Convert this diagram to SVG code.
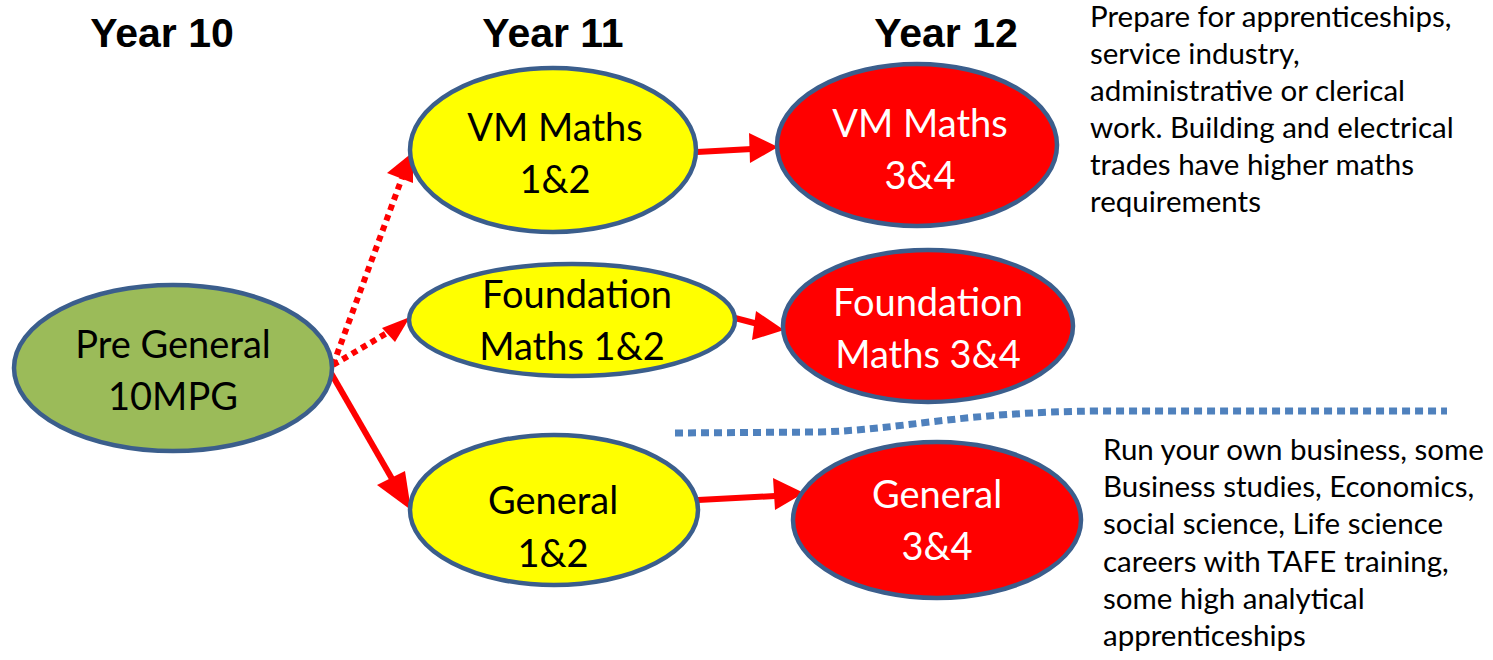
<svg xmlns="http://www.w3.org/2000/svg" width="1493" height="660" viewBox="0 0 1493 660">
<style>
.node { stroke: #3B5E8C; stroke-width: 4.5; }
.green { fill: #9BBB59; }
.yellow { fill: #FFFF00; }
.red { fill: #FF0000; }
.lbl { font-family: Lato, "Open Sans", sans-serif; font-size: 38px; text-anchor: middle; }
.dark { fill: #000000; }
.light { fill: #FFFFFF; }
.year { font-family: "Liberation Sans", Arial, sans-serif; font-size: 41px; font-weight: bold; text-anchor: middle; fill: #000; }
.note { font-family: Lato, "Open Sans", sans-serif; font-size: 29.5px; fill: #000; }
.conn { stroke: #FF0000; fill: none; }
.solid { stroke-width: 6; }
.dotted { stroke-width: 6; stroke-dasharray: 6 5; }
.head { fill: #FF0000; }
</style>
<rect width="1493" height="660" fill="#FFFFFF"/>

<g id="year-labels">
<text class="year" x="162" y="47">Year 10</text>
<text class="year" x="553" y="47">Year 11</text>
<text class="year" x="946" y="47">Year 12</text>
</g>

<g id="connectors">
<line class="conn dotted" x1="333" y1="365" x2="402" y2="178"/>
<polygon class="head" points="413,152 387,173 413,183"/>
<line class="conn dotted" x1="333" y1="365" x2="392" y2="330"/>
<polygon class="head" points="410,317 382,328 395,342"/>
<line class="conn solid" x1="331" y1="373" x2="395" y2="484"/>
<polygon class="head" points="411,510 377,485 405,471"/>
<line class="conn solid" x1="697" y1="152" x2="752" y2="149"/>
<polygon class="head" points="778,147 749,133 750,163"/>
<line class="conn solid" x1="735" y1="318" x2="758" y2="324"/>
<polygon class="head" points="784,330 756,311 752,340"/>
<line class="conn solid" x1="698" y1="500" x2="775" y2="496"/>
<polygon class="head" points="804,493 773,478 775,510"/>
<path fill="none" stroke="#4F81BD" stroke-width="7" stroke-dasharray="8 5" d="M675,433 L820,432 C900,430 960,412 1100,411 L1447,411"/>
</g>

<g id="pre-general">
<ellipse class="node green" cx="173" cy="368" rx="159" ry="83"/>
<text class="lbl dark" x="173" y="358">Pre General</text>
<text class="lbl dark" x="173" y="410">10MPG</text>
</g>

<g id="vm-maths-12">
<ellipse class="node yellow" cx="553" cy="150" rx="143" ry="82"/>
<text class="lbl dark" x="555" y="141">VM Maths</text>
<text class="lbl dark" x="555" y="193">1&amp;2</text>
</g>

<g id="foundation-maths-12">
<ellipse class="node yellow" cx="572" cy="320" rx="163" ry="56"/>
<text class="lbl dark" x="577" y="308">Foundation</text>
<text class="lbl dark" x="572" y="360">Maths 1&amp;2</text>
</g>

<g id="general-12">
<ellipse class="node yellow" cx="554" cy="510" rx="144" ry="75"/>
<text class="lbl dark" x="553" y="514">General</text>
<text class="lbl dark" x="553" y="567">1&amp;2</text>
</g>

<g id="vm-maths-34">
<ellipse class="node red" cx="917" cy="145" rx="140" ry="81"/>
<text class="lbl light" x="920" y="137">VM Maths</text>
<text class="lbl light" x="920" y="189">3&amp;4</text>
</g>

<g id="foundation-maths-34">
<ellipse class="node red" cx="928" cy="326" rx="145" ry="76"/>
<text class="lbl light" x="928" y="316">Foundation</text>
<text class="lbl light" x="928" y="368">Maths 3&amp;4</text>
</g>

<g id="general-34">
<ellipse class="node red" cx="937" cy="520" rx="144" ry="78"/>
<text class="lbl light" x="937" y="508">General</text>
<text class="lbl light" x="937" y="560">3&amp;4</text>
</g>

<g id="note-top">
<text class="note" x="1090" y="27">Prepare for apprenticeships,</text>
<text class="note" x="1090" y="64">service industry,</text>
<text class="note" x="1090" y="101">administrative or clerical</text>
<text class="note" x="1090" y="138">work. Building and electrical</text>
<text class="note" x="1090" y="175">trades have higher maths</text>
<text class="note" x="1090" y="212">requirements</text>
</g>

<g id="note-bottom">
<text class="note" x="1103" y="460">Run your own business, some</text>
<text class="note" x="1103" y="497">Business studies, Economics,</text>
<text class="note" x="1103" y="534">social science, Life science</text>
<text class="note" x="1103" y="572">careers with TAFE training,</text>
<text class="note" x="1103" y="609">some high analytical</text>
<text class="note" x="1103" y="646">apprenticeships</text>
</g>
</svg>
